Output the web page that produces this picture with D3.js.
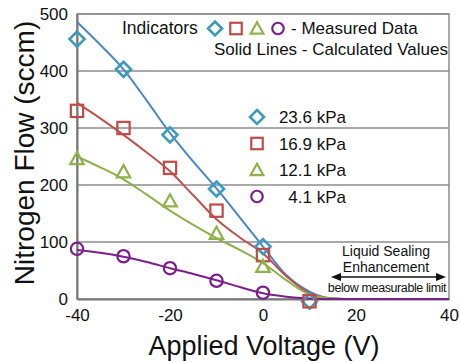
<!DOCTYPE html>
<html>
<head>
<meta charset="utf-8">
<script src="https://cdn.jsdelivr.net/npm/d3@7"></script>
<style>
  html, body { margin: 0; padding: 0; background: #fff; }
  svg { display: block; font-family: "Liberation Sans", Arial, Helvetica, sans-serif; }
</style>
</head>
<body>
<svg id="chart" width="460" height="362"></svg>
<script>
  // measured data (sccm) at each applied voltage (V)
  const voltages = [-40, -30, -20, -10, 0, 10];
  const measured236 = [456, 403, 288, 193, 92, -4];
  const measured169 = [330, 300, 230, 155, 77, -4];
  const measured121 = [246, 223, 172, 115, 57, null];
  const measured41 = [88, 75, 54, 32, 11, null];

  // calculated curves
  const calcVoltages = [-40, -35, -30, -25, -20, -15, -10, -5, 0, 5, 10, 15, 20, 40];
  const calc236 = [486, 446, 403, 348, 291, 241, 194, 143, 92, 42, 13, 1, 0, 0];
  const calc169 = [344, 317, 288, 257, 224, 182, 140, 108, 80, 40, 10, 1, 0, 0];
  const calc121 = [250, 231, 210, 183, 155, 130, 107, 86, 63, 33, 8, 1, 0, 0];
  const calc41 = [86, 81, 74, 65, 54, 44, 33, 21, 10, 4, 1, 0, 0, 0];

  const xTicks = [-40, -20, 0, 20, 40];
  const yTicks = [0, 100, 200, 300, 400, 500];

  const series = [
    { label: "23.6 kPa", shape: "diamond", marker: "#3a9cbc", line: "#4a86c8", measured: measured236, calc: calc236 },
    { label: "16.9 kPa", shape: "square", marker: "#be4b48", line: "#c0504d", measured: measured169, calc: calc169 },
    { label: "12.1 kPa", shape: "triangle", marker: "#8fb04a", line: "#8fb04a", measured: measured121, calc: calc121 },
    { label: "4.1 kPa", shape: "circle", marker: "#7a1f8c", line: "#7a1f8c", measured: measured41, calc: calc41 },
  ];

  const svg = d3.select("#chart");
  const margin = { left: 77, right: 11, top: 14, bottom: 63 };
  const width = 460 - margin.left - margin.right;
  const height = 362 - margin.top - margin.bottom;

  const x = d3.scaleLinear().domain([-40, 40]).range([margin.left, margin.left + width]);
  const y = d3.scaleLinear().domain([0, 500]).range([margin.top + height, margin.top]);

  // gridlines
  svg.append("g")
    .selectAll("line")
    .data(yTicks.slice(1))
    .join("line")
    .attr("x1", x(-40))
    .attr("x2", x(40))
    .attr("y1", (d) => y(d))
    .attr("y2", (d) => y(d))
    .attr("stroke", "#8c8c8c")
    .attr("stroke-width", 1.5);

  // plot frame
  svg.append("rect")
    .attr("x", x(-40))
    .attr("y", y(500))
    .attr("width", width)
    .attr("height", height)
    .attr("fill", "none")
    .attr("stroke", "#8c8c8c")
    .attr("stroke-width", 1.5);

  // axes
  const yAxis = svg.append("g")
    .attr("transform", `translate(${x(-40)},0)`)
    .call(d3.axisLeft(y).tickValues(yTicks).tickSize(0).tickPadding(9));
  const xAxis = svg.append("g")
    .attr("transform", `translate(0,${y(0)})`)
    .call(d3.axisBottom(x).tickValues(xTicks).tickSize(0).tickPadding(7).tickFormat((d) => String(d)));
  [yAxis, xAxis].forEach((a) => {
    a.select(".domain").attr("stroke", "#777").attr("stroke-width", 2);
    a.selectAll("text")
      .attr("font-family", "'Liberation Sans', Arial, sans-serif")
      .attr("font-size", 17)
      .attr("fill", "#111");
  });
  xAxis.selectAll("text").attr("dy", "0.9em");

  svg.append("text")
    .attr("x", (x(-40) + x(40)) / 2 + 1)
    .attr("y", 355)
    .attr("text-anchor", "middle")
    .attr("font-size", 27)
    .attr("fill", "#111")
    .text("Applied Voltage (V)");

  svg.append("text")
    .attr("transform", `translate(34,${153}) rotate(-90)`)
    .attr("text-anchor", "middle")
    .attr("font-size", 28)
    .attr("fill", "#111")
    .text("Nitrogen Flow (sccm)");

  // calculated lines
  const line = d3.line()
    .x((d) => x(d[0]))
    .y((d) => y(d[1]))
    .curve(d3.curveMonotoneX);

  series.forEach((s) => {
    svg.append("path")
      .datum(calcVoltages.map((v, i) => [v, s.calc[i]]))
      .attr("d", line)
      .attr("fill", "none")
      .attr("stroke", s.line)
      .attr("stroke-width", 2);
  });

  function drawMarker(g, shape, cx, cy, size, color) {
    const r = size / 2;
    if (shape === "diamond") {
      g.append("path")
        .attr("d", `M${cx},${cy - r}L${cx + r},${cy}L${cx},${cy + r}L${cx - r},${cy}Z`)
        .attr("fill", "none").attr("stroke", color).attr("stroke-width", 2.6);
    } else if (shape === "square") {
      const h = r * 0.82;
      g.append("rect")
        .attr("x", cx - h).attr("y", cy - h).attr("width", 2 * h).attr("height", 2 * h)
        .attr("fill", "none").attr("stroke", color).attr("stroke-width", 2.2);
    } else if (shape === "triangle") {
      const h = r * 0.9;
      g.append("path")
        .attr("d", `M${cx},${cy - h}L${cx + h},${cy + h * 0.8}L${cx - h},${cy + h * 0.8}Z`)
        .attr("fill", "none").attr("stroke", color).attr("stroke-width", 2.2);
    } else {
      g.append("circle")
        .attr("cx", cx).attr("cy", cy).attr("r", r * 0.82)
        .attr("fill", "none").attr("stroke", color).attr("stroke-width", 2.2);
    }
  }

  // measured markers
  const markers = svg.append("g");
  series.forEach((s) => {
    voltages.forEach((v, i) => {
      if (s.measured[i] == null) return;
      drawMarker(markers, s.shape, x(v), y(s.measured[i]), 15, s.marker);
    });
  });

  // legend with pressures
  const legend = svg.append("g");
  series.forEach((s, i) => {
    const cy = 117 + i * 26.5;
    drawMarker(legend, s.shape, 257, cy, 14, s.marker);
    legend.append("text")
      .attr("x", 346)
      .attr("y", cy + 6)
      .attr("text-anchor", "end")
      .attr("font-size", 17)
      .attr("fill", "#111")
      .text(s.label);
  });

  // top note
  const note = svg.append("g");
  note.append("text")
    .attr("x", 122)
    .attr("y", 34)
    .attr("font-size", 17.5)
    .attr("fill", "#111")
    .text("Indicators");
  series.forEach((s, i) => {
    drawMarker(note, s.shape, 215 + i * 21, 28.5, 14, s.marker);
  });
  note.append("text")
    .attr("x", 291)
    .attr("y", 34)
    .attr("font-size", 17)
    .attr("fill", "#111")
    .text("- Measured Data");
  note.append("text")
    .attr("x", 448)
    .attr("y", 55)
    .attr("text-anchor", "end")
    .attr("font-size", 17)
    .attr("fill", "#111")
    .text("Solid Lines - Calculated Values");

  // sealing annotation
  const ann = svg.append("g");
  ann.append("text")
    .attr("x", 386).attr("y", 256)
    .attr("text-anchor", "middle")
    .attr("font-size", 14).attr("fill", "#111")
    .text("Liquid Sealing");
  ann.append("text")
    .attr("x", 386).attr("y", 272)
    .attr("text-anchor", "middle")
    .attr("font-size", 14).attr("fill", "#111")
    .text("Enhancement");
  const ay = 277;
  ann.append("line")
    .attr("x1", 336).attr("x2", 441).attr("y1", ay).attr("y2", ay)
    .attr("stroke", "#111").attr("stroke-width", 1.6);
  ann.append("path")
    .attr("d", `M331,${ay}L341,${ay - 4}L341,${ay + 4}Z M446,${ay}L436,${ay - 4}L436,${ay + 4}Z`)
    .attr("fill", "#111");
  ann.append("text")
    .attr("x", 387).attr("y", 292)
    .attr("text-anchor", "middle")
    .attr("font-size", 12.5).attr("fill", "#111")
    .attr("letter-spacing", -0.4)
    .text("below measurable limit");
</script>
</body>
</html>
